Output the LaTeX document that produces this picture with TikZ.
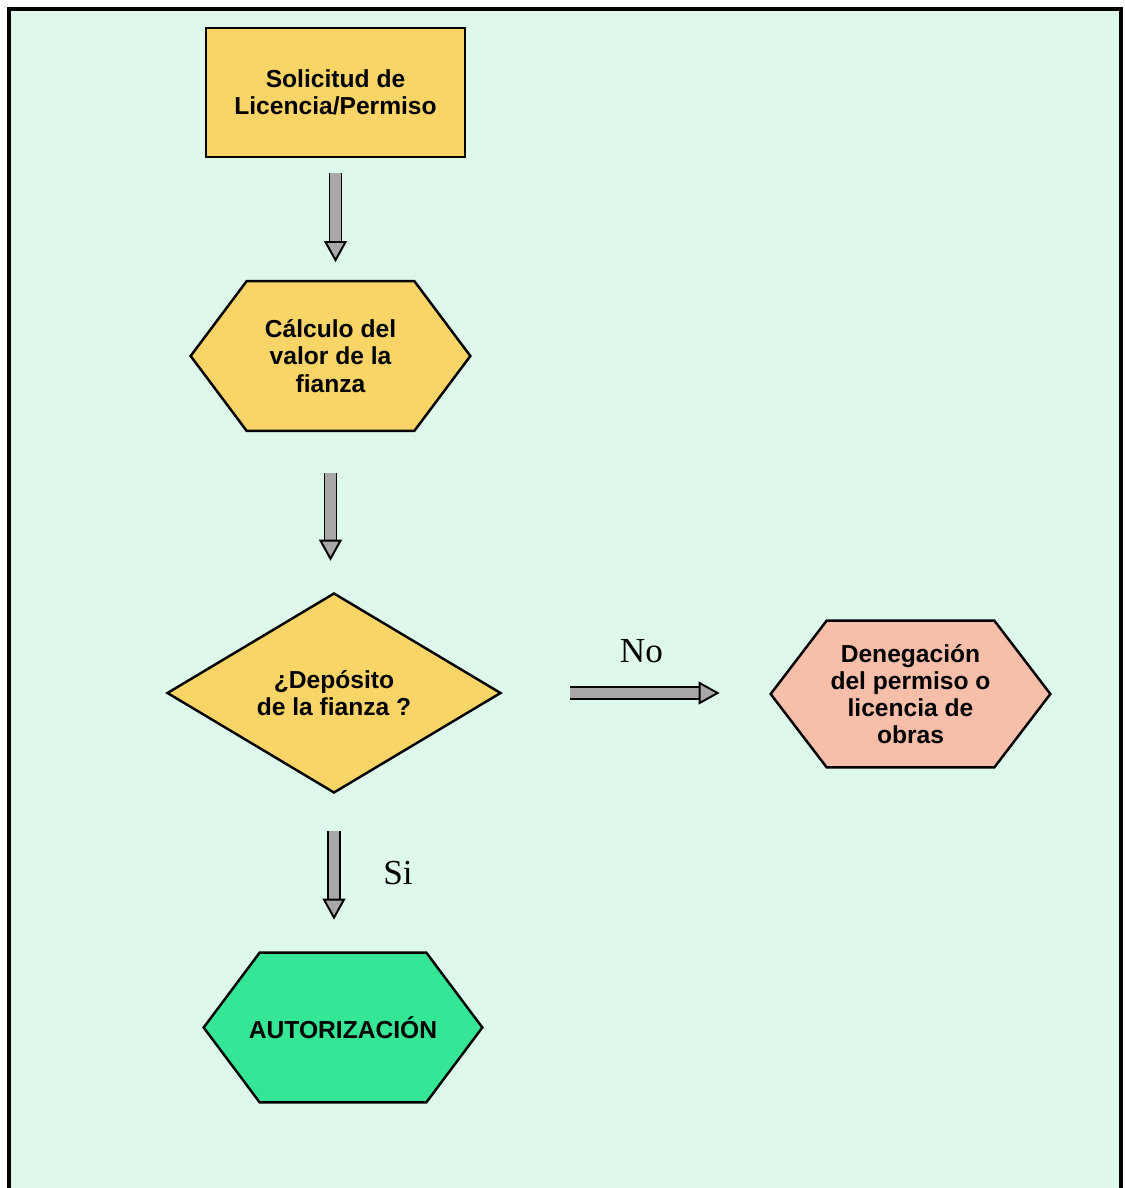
\documentclass[tikz,border=0pt]{standalone}
\usepackage{fontspec}
\setmainfont{Liberation Sans}
\newfontfamily\answerfont{Liberation Serif}
\usepackage{tikz}
\usetikzlibrary{shapes.geometric, arrows.meta, positioning, calc, backgrounds}
\definecolor{panelgreen}{RGB}{222,248,236}
\definecolor{stepyellow}{RGB}{249,213,104}
\definecolor{denypink}{RGB}{247,190,170}
\definecolor{okgreen}{RGB}{52,230,150}
\definecolor{arrowgray}{RGB}{168,168,168}

% hexagon drawn round a named node: node, inset, fill
\newcommand{\hexround}[3]{%
  \draw[line width=1.4pt, fill=#3] (#1.west) -- ([xshift=#2]#1.north west)
    -- ([xshift=-#2]#1.north east) -- (#1.east)
    -- ([xshift=-#2]#1.south east) -- ([xshift=#2]#1.south west) -- cycle;}

\begin{document}
\begin{tikzpicture}[
    box/.style={font=\bfseries\fontsize{14}{15.5}\selectfont, align=center, inner sep=0pt},
    flow/.style={draw=black, line width=1.1pt, double=arrowgray, double distance=5.7pt,
                 -{Triangle[length=12pt, width=13pt, fill=arrowgray, line width=1.1pt]}},
    answer/.style={font=\answerfont\fontsize{20}{22}\selectfont}
]
    \useasboundingbox (0,0) rectangle (22.5,-23.76);

    \node[box, draw, line width=1.4pt, fill=stepyellow,
          minimum width=5.18cm, minimum height=2.58cm] (sol) at (6.71,-1.85) {Solicitud de\\Licencia/Permiso};
    \node[box, minimum width=5.58cm, minimum height=2.98cm] (calc) at (6.61,-7.12) {Cálculo del\\valor de la\\fianza};
    \node[box, diamond, aspect=1.67, draw, line width=1.4pt, fill=stepyellow,
          minimum width=6.68cm, minimum height=4cm] (dep) at (6.68,-13.86) {¿Depósito\\de la fianza ?};
    \node[box, minimum width=5.58cm, minimum height=2.92cm] (den) at (18.21,-13.88) {Denegación\\del permiso o\\licencia de\\obras};
    \node[box, minimum width=5.56cm, minimum height=2.98cm] (aut) at (6.86,-20.55) {AUTORIZACIÓN};

    % frame and hexagons behind the texts
    \begin{scope}[on background layer]
        \draw[line width=2.8pt, fill=panelgreen] (0.18,-0.18) rectangle (22.42,-24.5);
        \hexround{calc}{1.12cm}{stepyellow}
        \hexround{den}{1.12cm}{denypink}
        \hexround{aut}{1.12cm}{okgreen}
    \end{scope}

    % arrows
    \draw[flow, shorten <=0.3cm, shorten >=0.38cm] (sol.south) -- (sol.south |- calc.north);
    \draw[flow, shorten <=0.84cm, shorten >=0.62cm] (calc.south) -- (calc.south |- dep.north);
    \draw[flow, shorten <=1.36cm, shorten >=1.02cm] (dep.east) -- (dep.east -| den.west)
        node[answer, midway, xshift=0.1cm, yshift=0.84cm] (no) {No};
    \draw[flow, shorten <=0.74cm, shorten >=0.66cm] (dep.south) -- (dep.south |- aut.north)
        node[answer, midway, xshift=1.28cm] (si) {Si};
\end{tikzpicture}
\end{document}
